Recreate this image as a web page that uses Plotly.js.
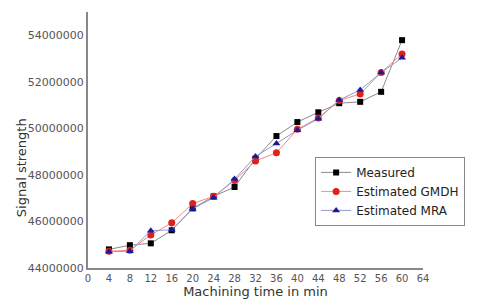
<!DOCTYPE html>
<html>
<head>
<meta charset="utf-8">
<script src="https://cdn.plot.ly/plotly-3.0.1.min.js"></script>
<style>html,body{margin:0;padding:0;background:#fff;}#chart{width:480px;height:300px;}</style>
</head>
<body>
<div id="chart"></div>
<script>
const time = [4, 8, 12, 16, 20, 24, 28, 32, 36, 40, 44, 48, 52, 56, 60];
const measured = [44800000, 44980000, 45060000, 45620000, 46560000, 47080000, 47480000, 48700000, 49670000, 50270000, 50690000, 51080000, 51140000, 51570000, 53790000];
const gmdh = [44720000, 44760000, 45420000, 45940000, 46770000, 47080000, 47760000, 48600000, 48950000, 49960000, 50450000, 51200000, 51480000, 52400000, 53200000];
const mra = [44700000, 44720000, 45600000, 45640000, 46540000, 47020000, 47820000, 48790000, 49350000, 49920000, 50410000, 51220000, 51650000, 52400000, 53030000];
const xTicks = [0, 4, 8, 12, 16, 20, 24, 28, 32, 36, 40, 44, 48, 52, 56, 60, 64];
const yTicks = [44000000, 46000000, 48000000, 50000000, 52000000, 54000000];

const traces = [
  {x: time, y: measured, name: 'Measured', mode: 'lines+markers',
   line: {color: '#8a8a8a', width: 1}, marker: {symbol: 'square', size: 6, color: '#000000'}},
  {x: time, y: gmdh, name: 'Estimated GMDH', mode: 'lines+markers',
   line: {color: '#f08c8c', width: 1}, marker: {symbol: 'circle', size: 7, color: '#e0201c'}},
  {x: time, y: mra, name: 'Estimated MRA', mode: 'lines+markers',
   line: {color: '#9a98c8', width: 1}, marker: {symbol: 'triangle-up', size: 7, color: '#1a1a9a'}}
];

const layout = {
  width: 480, height: 300,
  margin: {l: 88, r: 57, t: 12, b: 32},
  paper_bgcolor: '#fff', plot_bgcolor: '#fff',
  font: {family: 'DejaVu Sans, Liberation Sans, sans-serif', color: '#333', size: 10},
  showlegend: true,
  legend: {x: 0.678, y: 0.434, xanchor: 'left', yanchor: 'top',
           bgcolor: '#fff', bordercolor: '#888', borderwidth: 1,
           font: {size: 12, color: '#222'}, tracegroupgap: 0, itemwidth: 30},
  xaxis: {range: [0, 64], tickvals: xTicks, ticktext: xTicks.map(String),
          showgrid: false, zeroline: false, showline: true, linecolor: '#888', linewidth: 2,
          ticks: '', ticklen: 0, tickfont: {size: 10, color: '#555'},
          title: {text: 'Machining time in min', font: {size: 13, color: '#333'}, standoff: 1}},
  yaxis: {range: [44000000, 55000000], tickvals: yTicks, tickformat: 'd',
          showgrid: false, zeroline: false, showline: true, linecolor: '#888', linewidth: 2,
          ticks: '', ticklen: 0, tickfont: {size: 11, color: '#555'}, ticklabelstandoff: 0},
  annotations: [{text: 'Signal strength', textangle: -90, xref: 'paper', yref: 'paper',
                 x: -0.2, y: 0.39, xanchor: 'center', yanchor: 'middle', showarrow: false,
                 font: {size: 13, color: '#333'}}]
};

Plotly.newPlot('chart', traces, layout, {displayModeBar: false, staticPlot: true});
</script>
</body>
</html>
